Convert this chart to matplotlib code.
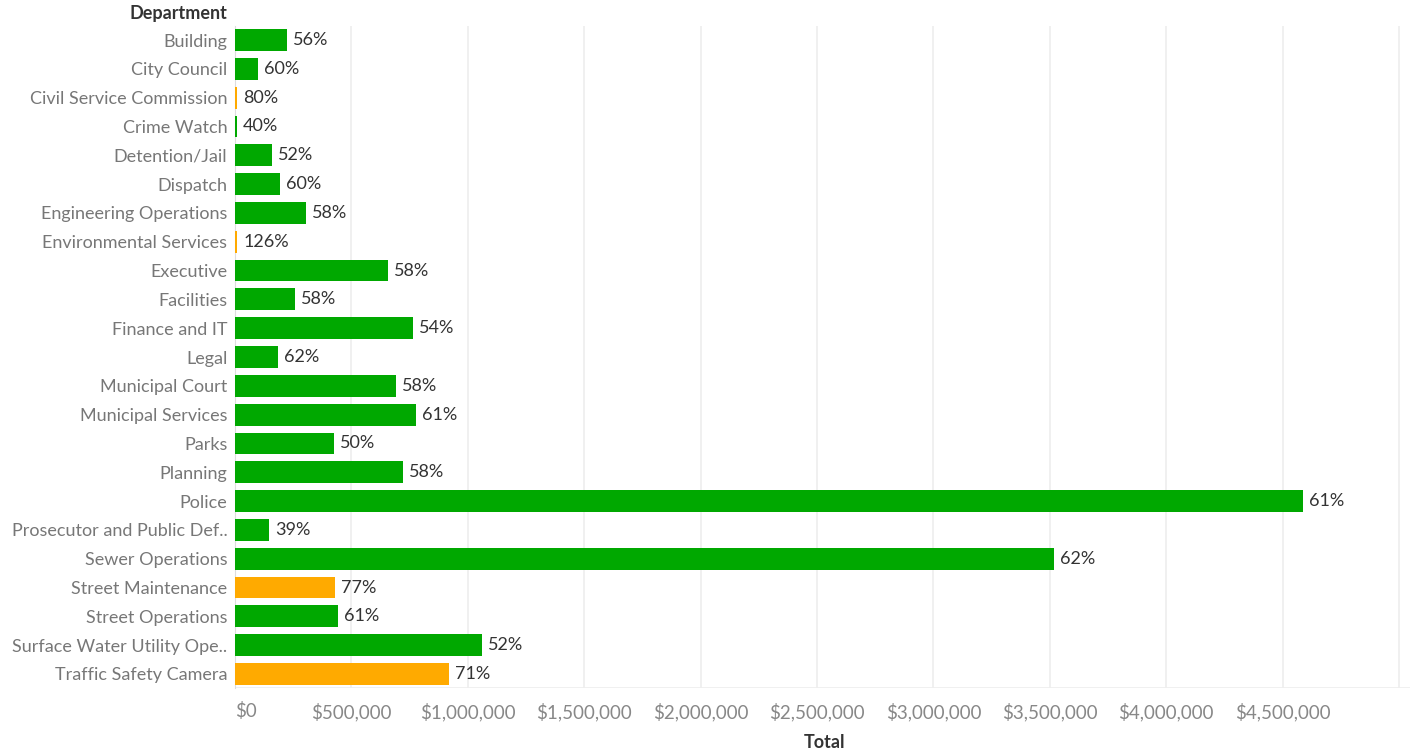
import matplotlib
matplotlib.use('Agg')
from matplotlib import pyplot as plt
from matplotlib.ticker import FuncFormatter

departments = ['Building', 'City Council', 'Civil Service Commission', 'Crime Watch',
               'Detention/Jail', 'Dispatch', 'Engineering Operations', 'Environmental Services',
               'Executive', 'Facilities', 'Finance and IT', 'Legal', 'Municipal Court',
               'Municipal Services', 'Parks', 'Planning', 'Police',
               'Prosecutor and Public Def..', 'Sewer Operations', 'Street Maintenance',
               'Street Operations', 'Surface Water Utility Ope..', 'Traffic Safety Camera']
totals = [223000, 99000, 9000, 8000, 160000, 194000, 306000, 10000,
          658000, 259000, 765000, 186000, 692000, 778000, 426000, 722000, 4588000,
          147000, 3519000, 430000, 443000, 1061000, 920000]
pct_spent = [56, 60, 80, 40, 52, 60, 58, 126, 58, 58, 54, 62, 58, 61, 50, 58, 61,
             39, 62, 77, 61, 52, 71]
x_ticks = [0, 500000, 1000000, 1500000, 2000000, 2500000, 3000000, 3500000, 4000000, 4500000]

GREEN = '#00a800'
ORANGE = '#ffaa00'

plt.rcParams['font.family'] = ['Lato', 'DejaVu Sans']

fig = plt.figure(figsize=(14.26, 7.55), dpi=100)
ax = fig.add_axes([235 / 1426, 1 - 688.4 / 755, (1410 - 235) / 1426, (688.4 - 25.6) / 755])

colors = [ORANGE if p >= 70 else GREEN for p in pct_spent]
y = list(range(len(departments)))
ax.barh(y, totals, height=0.76, color=colors, zorder=3)

for yi, v, p in zip(y, totals, pct_spent):
    ax.text(v + 26000, yi, f'{p}%', va='center', ha='left', fontsize=13,
            color='#333333', zorder=4)

ax.set_ylim(len(departments) - 0.5, -0.5)
ax.set_xlim(0, 5047000)
ax.set_yticks(y)
ax.set_yticklabels(departments, fontsize=13, color='#777777')
ax.set_xticks(x_ticks + [5000000])
ax.xaxis.set_major_formatter(FuncFormatter(lambda v, pos: '' if v >= 5000000 else f'${v:,.0f}'))
ax.tick_params(axis='x', labelsize=13.5, labelcolor='#888888', length=0, pad=10)
ax.tick_params(axis='y', length=0, pad=5.5)
ax.get_xticklabels()[0].set_horizontalalignment('left')

ax.grid(axis='x', color='#eeeeee', linewidth=1.2, zorder=0)
for s in ['top', 'right', 'bottom']:
    ax.spines[s].set_visible(False)
ax.spines['left'].set_color('#dddddd')
ax.axhline(len(departments) - 0.5, color='#eeeeee', linewidth=1.2, zorder=1)

fig.text(227 / 1426, 1 - 13 / 755, 'Department', ha='right', va='center',
         fontsize=13, color='#333333', fontweight='bold')
fig.text(825 / 1426, 1 - 743 / 755, 'Total', ha='center', va='center',
         fontsize=13, color='#333333', fontweight='bold')

fig.savefig('out.png', dpi=100)
